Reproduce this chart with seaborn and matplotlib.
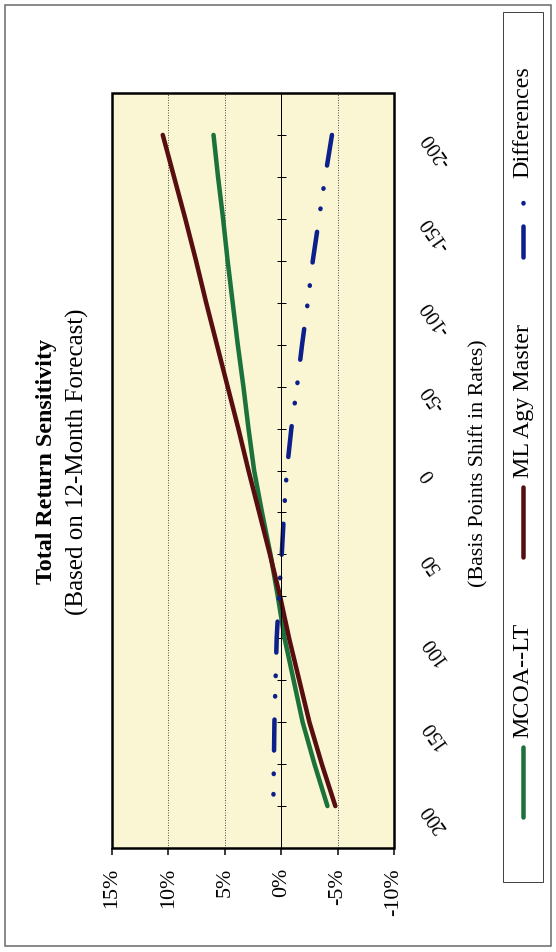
import matplotlib
matplotlib.use("Agg")
import matplotlib.pyplot as plt
import matplotlib.transforms as mtransforms
import pandas as pd
import seaborn as sns
from matplotlib.lines import Line2D
from matplotlib.patches import Rectangle

# Rate-shock scenarios (basis points) and 12-month total returns (%)
basis_points = [-200, -175, -150, -125, -100, -75, -50, -25, 0,
                25, 50, 75, 100, 125, 150, 175, 200]
mcoa_lt = [6.0, 5.6, 5.15, 4.75, 4.3, 3.85, 3.35, 2.9, 2.4,
           1.7, 0.95, 0.3, -0.3, -1.1, -1.9, -2.95, -4.1]
ml_agy_master = [10.5, 9.5, 8.5, 7.55, 6.65, 5.7, 4.75, 3.8, 2.9,
                 1.95, 1.0, 0.1, -0.7, -1.6, -2.5, -3.6, -4.8]
differences = [-4.5, -3.9, -3.35, -2.8, -2.35, -1.85, -1.4, -0.9, -0.5,
               -0.25, -0.05, 0.2, 0.4, 0.5, 0.6, 0.65, 0.7]

series_names = ["MCOA--LT", "ML Agy Master", "Differences"]
series_colors = ["#1c723b", "#580d10", "#0c1f8a"]

pct_ticks = [15, 10, 5, 0, -5, -10]
pct_labels = ["15%", "10%", "5%", "0%", "-5%", "-10%"]
bp_labels = ["-200", "", "-150", "", "-100", "", "-50", "", "0",
             "", "50", "", "100", "", "150", "", "200"]

title = "Total Return Sensitivity"
subtitle = "(Based on 12-Month Forecast)"
axis_title = "(Basis Points Shift in Rates)"

sns.set_theme(style="white")
plt.rcParams["font.family"] = ["Liberation Serif", "DejaVu Serif"]
plt.rcParams["lines.scale_dashes"] = False

W, H, DPI = 556, 952, 72
fig = plt.figure(figsize=(W / DPI, H / DPI), dpi=DPI)
fig.patch.set_facecolor("white")

# page layer in pixel units (printed page turned sideways)
page = fig.add_axes([0, 0, 1, 1], zorder=0)
page.set_xlim(0, W)
page.set_ylim(H, 0)
page.axis("off")

L, R, T, B = 112, 394, 93, 848
ax = fig.add_axes([L / W, 1 - B / H, (R - L) / W, (B - T) / H], zorder=1)
ax.set_facecolor("#faf6d3")

df = pd.DataFrame({
    "bp": basis_points * 3,
    "ret": mcoa_lt + ml_agy_master + differences,
    "series": [n for n in series_names for _ in basis_points],
})

diff_dash = (0, (31, 23, 0.5, 20, 0.5, 23))
for name, color in zip(series_names, series_colors):
    sub = df[df["series"] == name]
    sns.lineplot(data=sub, x="ret", y="bp", orient="y", estimator=None,
                 color=color, linewidth=4.5, solid_capstyle="round",
                 dash_capstyle="round", ax=ax, legend=False)
    if name == "Differences":
        ax.lines[-1].set_linestyle(diff_dash)

ax.set_xlim(15, -10)
ax.set_ylim(225, -225)
ax.set_xlabel("")
ax.set_ylabel("")

ax.set_xticks(pct_ticks)
ax.set_xticklabels(pct_labels, rotation=90, fontsize=22)
ax.tick_params(axis="x", bottom=True, direction="out", length=7, width=1.5,
               color="black", pad=13, labelcolor="black")
ax.grid(axis="x", linestyle=(0, (1, 1.5)), color="#555555", linewidth=1)
ax.grid(axis="y", visible=False)

# category axis runs along the 0% line, labels sit beyond the plot edge
ax.set_yticks(basis_points)
ax.tick_params(axis="y", left=True, right=False, labelleft=False,
               labelright=False, direction="inout", length=9, width=1,
               color="black")
label_tf = (mtransforms.blended_transform_factory(ax.transAxes, ax.transData)
            + mtransforms.ScaledTranslation(32 / DPI, 0, fig.dpi_scale_trans))
for bp, lab in zip(basis_points, bp_labels):
    if lab:
        ax.text(1, bp, lab, transform=label_tf, rotation=125,
                rotation_mode="anchor", ha="right", va="center",
                fontsize=20, color="black", clip_on=False)

for s in ["top", "right", "bottom"]:
    ax.spines[s].set_visible(False)
ax.spines["left"].set_position(("data", 0))
ax.spines["left"].set_color("black")
ax.spines["left"].set_linewidth(1)
ax.add_patch(Rectangle((0, 0), 1, 1, transform=ax.transAxes, fill=False,
                       ec="black", lw=2.5, zorder=6, clip_on=False))

# page frame, titles and axis title
page.add_patch(Rectangle((5, 5), 546, 941, fill=False, ec="#666666", lw=1.5))
page.text(47, 462, title, rotation=90, ha="center", va="center",
          fontsize=24, fontweight="bold", color="black")
page.text(77, 462, subtitle, rotation=90, ha="center", va="center",
          fontsize=25, color="black")
page.text(479, 463, axis_title, rotation=90, ha="center", va="center",
          fontsize=22, color="black")

# legend
page.add_patch(Rectangle((503, 12), 40, 870, fill=False, ec="#444444", lw=1))
legend_rows = [(817, "MCOA--LT"), (557, "ML Agy Master"), (257, "Differences")]
for (y0, label), name, color in zip(legend_rows, series_names, series_colors):
    ls = diff_dash if name == "Differences" else "-"
    page.add_line(Line2D([523, 523], [y0, y0 - 70], color=color, lw=4.5,
                         linestyle=ls, solid_capstyle="round",
                         dash_capstyle="round"))
    page.text(523, y0 - 79, label, rotation=90, rotation_mode="anchor",
              ha="left", va="center", fontsize=24, color="black")

fig.savefig("out.png", dpi=DPI, facecolor="white")
